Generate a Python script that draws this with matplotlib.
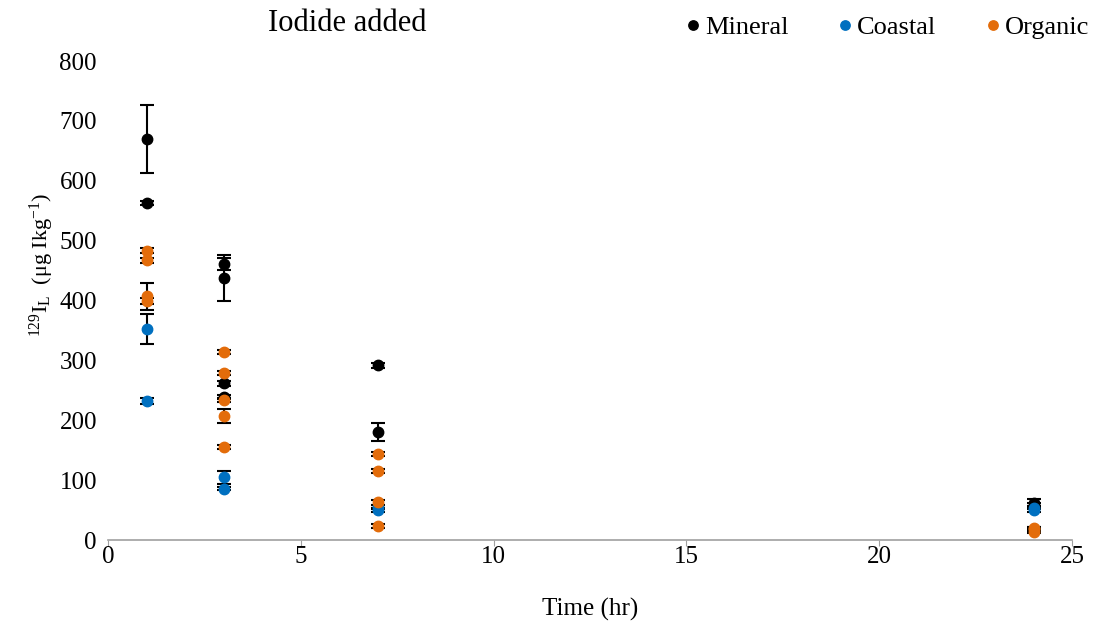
"""Scatter of labile 129I over time for three soil groups after iodide addition."""
import matplotlib
matplotlib.use("Agg")
import matplotlib.pyplot as plt

plt.rcParams["font.family"] = ["Liberation Serif", "DejaVu Serif"]

# time (hr), concentration, error for each soil group
mineral_t = [1, 1, 3, 3, 3, 3, 7, 7, 24, 24]
mineral_y = [670, 563, 461, 438, 262, 239, 292, 180, 62, 57]
mineral_err = [57, 3, 10, 38, 4, 4, 4, 15, 6, 4]

coastal_t = [1, 1, 3, 3, 7, 7, 24, 24]
coastal_y = [352, 233, 105, 86, 50, 55, 50, 54]
coastal_err = [25, 5, 11, 3, 4, 3, 3, 3]

organic_t = [1, 1, 1, 1, 3, 3, 3, 3, 3, 7, 7, 7, 7, 24, 24, 24]
organic_y = [483, 467, 407, 399, 314, 279, 234, 207, 155, 144, 115, 63, 23, 18, 14, 20]
organic_err = [4, 4, 22, 5, 3, 3, 4, 11, 3, 3, 3, 4, 3, 3, 2, 2]

series = [
    ("Mineral", mineral_t, mineral_y, mineral_err, "#000000"),
    ("Coastal", coastal_t, coastal_y, coastal_err, "#0070C0"),
    ("Organic", organic_t, organic_y, organic_err, "#E36C0A"),
]

fig = plt.figure(figsize=(10.98, 6.28), dpi=100)
ax = fig.add_axes([0.0984, 0.1401, 0.878, 0.7627])

for name, t, y, err, color in series:
    ax.errorbar(t, y, yerr=err, fmt="none", ecolor="black", elinewidth=1.5,
                capsize=5, capthick=1.5, zorder=2)
    ax.plot(t, y, "o", color=color, markersize=7.5, label=name, zorder=3)

ax.set_xlim(0, 25)
ax.set_ylim(0, 800)
ax.set_xticks(range(0, 26, 5))
ax.set_yticks(range(0, 801, 100))
ax.tick_params(axis="both", labelsize=18)
ax.tick_params(axis="y", length=0, pad=8)
ax.tick_params(axis="x", direction="out", length=4, color="#A0A0A0", pad=0)
for side in ("top", "right", "left"):
    ax.spines[side].set_visible(False)
ax.spines["bottom"].set_color("#A0A0A0")
ax.spines["bottom"].set_linewidth(1.2)

ax.set_xlabel("Time (hr)", fontsize=18, labelpad=22)
ax.set_ylabel(r"$\mathregular{^{129}I_L}$  (μg Ikg$\mathregular{^{-1}}$)", fontsize=16, labelpad=2)
ax.yaxis.set_label_coords(-0.054, 0.574)

fig.text(0.316, 0.962, "Iodide added", fontsize=22, ha="center", va="center")
fig.legend(loc="center right", bbox_to_anchor=(1.004, 0.957), ncol=3, frameon=False,
           fontsize=19, borderpad=0, handlelength=0.5, handletextpad=0.2,
           columnspacing=1.9, markerscale=0.9)

fig.savefig("out.png", dpi=100)
